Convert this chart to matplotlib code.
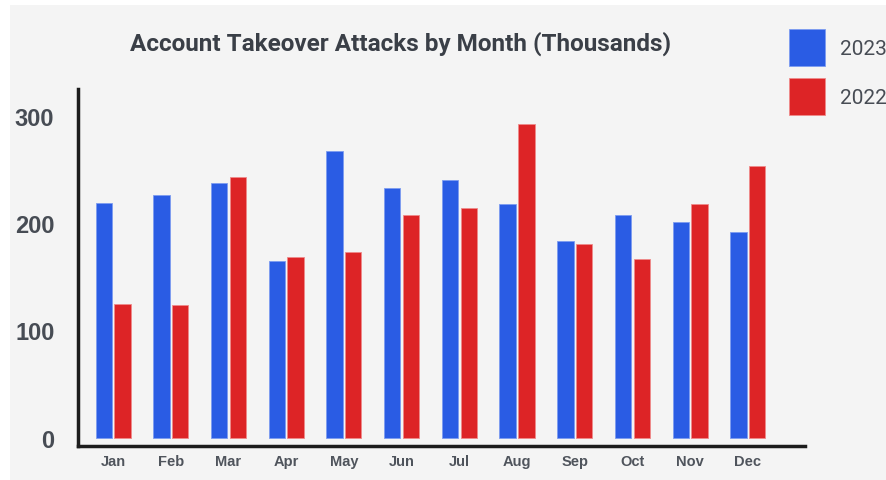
import matplotlib
matplotlib.use("Agg")
import matplotlib.pyplot as plt
import numpy as np
from matplotlib.patches import Patch, Rectangle

# monthly account takeover attacks, thousands
months = ["Jan", "Feb", "Mar", "Apr", "May", "Jun", "Jul", "Aug", "Sep", "Oct", "Nov", "Dec"]
attacks_2023 = [219, 226, 237, 165, 267, 233, 240, 218, 183, 208, 201, 192]
attacks_2022 = [125, 124, 243, 168, 173, 208, 214, 292, 181, 167, 218, 253]
years = ["2023", "2022"]
y_ticks = [0, 100, 200, 300]

BLUE = "#2a5ce4"
RED = "#dd2426"
BG = "#f4f4f4"
TEXT = "#474c54"

W, H = 886, 481
fig = plt.figure(figsize=(W / 100, H / 100), dpi=100, facecolor="white")
# grey card behind the chart, leaving a thin white strip top and left
fig.add_artist(Rectangle((10 / W, 0), 1, 1 - 6 / H, transform=fig.transFigure,
                         facecolor=BG, edgecolor="none", zorder=0))

ax = fig.add_axes([78 / W, 1 - 447 / H, 727 / W, 357 / H])
ax.set_facecolor("none")

x = np.arange(len(months))
offset, width = 0.163, 0.283
ax.bar(x - offset, attacks_2023, width=width, color=BLUE, edgecolor="#7d9cf0", linewidth=0.6)
ax.bar(x + offset, attacks_2022, width=width, color=RED, edgecolor="#ee8a8a", linewidth=0.6)

ax.set_xlim(-0.608, 11.99)
ax.set_ylim(-7.7, 325)

ax.set_xticks(x)
ax.set_xticklabels(months, fontsize=10.5, fontweight="bold", family="Liberation Sans", color="#4f545c")
ax.set_yticks(y_ticks)
ax.set_yticklabels([str(v) for v in y_ticks], fontsize=17, fontweight="bold",
                   family="Liberation Sans", color=TEXT)
ax.tick_params(axis="both", length=0)
ax.tick_params(axis="y", pad=17)
ax.tick_params(axis="x", pad=6)

for side in ("top", "right"):
    ax.spines[side].set_visible(False)
for side in ("left", "bottom"):
    ax.spines[side].set_linewidth(2.5)
    ax.spines[side].set_color("#1c1c1c")

fig.text(401 / W, 1 - 44 / H, "Account Takeover Attacks by Month (Thousands)",
         ha="center", va="center", fontsize=17.5, fontweight="bold", family="Roboto", color="#3a3f47")

# legend with large square swatches
handles = [Patch(facecolor=BLUE, edgecolor="#7d9cf0", linewidth=0.6),
           Patch(facecolor=RED, edgecolor="#ee8a8a", linewidth=0.6)]
leg = fig.legend(handles, years, loc="upper left", bbox_to_anchor=(788.7 / W, 1 - 30.3 / H),
                 frameon=False, borderpad=0, borderaxespad=0,
                 handlelength=1.75, handleheight=2.315, handletextpad=0.7, labelspacing=0.6,
                 prop={"family": "Roboto", "size": 15})
for t in leg.get_texts():
    t.set_color(TEXT)

fig.savefig("out.png", dpi=100)
